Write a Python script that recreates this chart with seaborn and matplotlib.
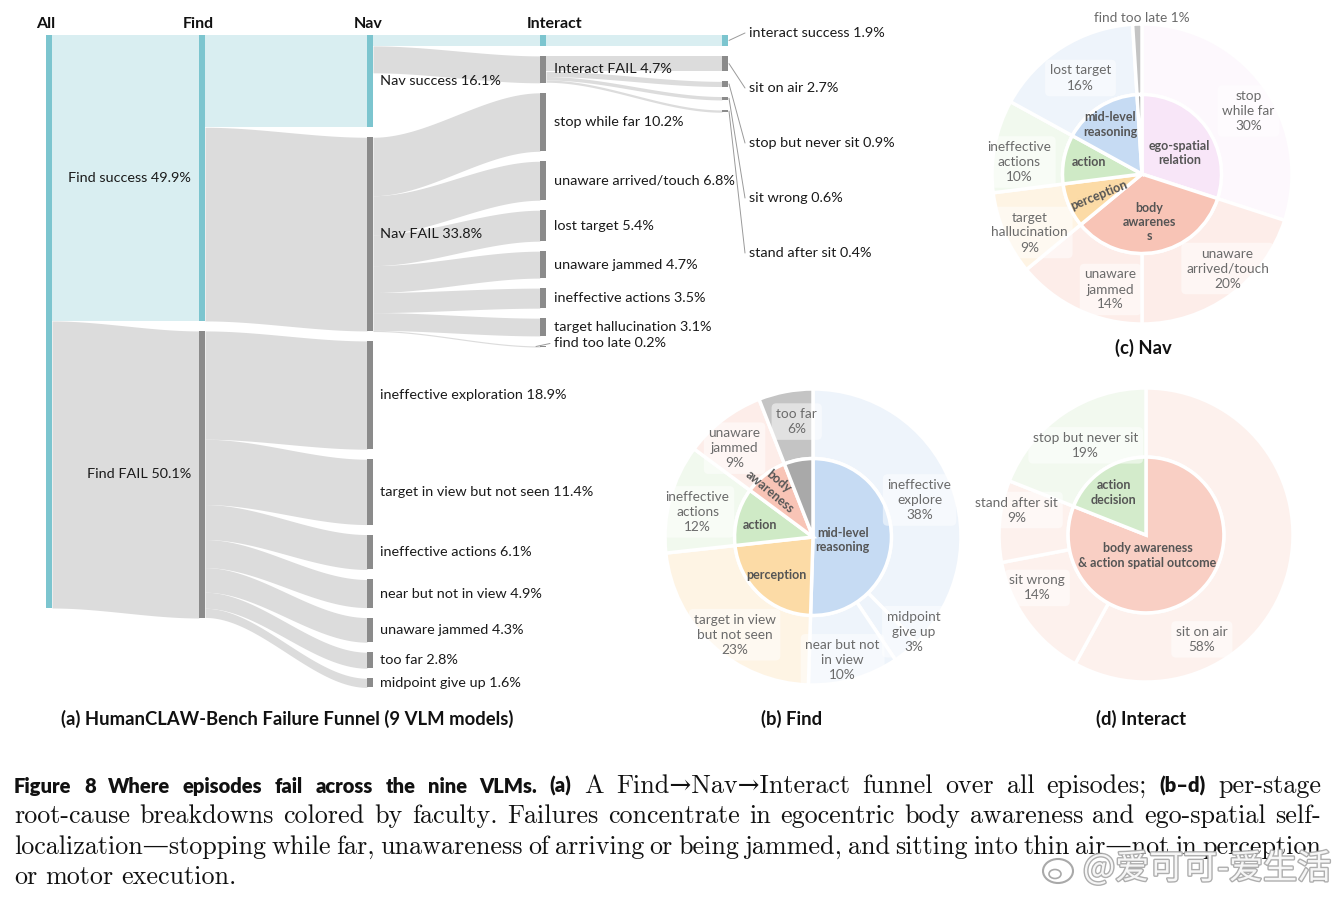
import numpy as np
import pandas as pd
import seaborn as sns
import matplotlib.pyplot as plt
import matplotlib.colors as mcolors
import matplotlib.patheffects as pe
from matplotlib.patches import Rectangle, Ellipse

# ---------------- funnel data (% of all episodes) ----------------
find_stage = ["Find success", "Find FAIL"]
find_vals = [49.9, 50.1]

nav_stage = ["Nav success", "Nav FAIL"]
nav_vals = [16.1, 33.8]

find_fail_causes = ["ineffective exploration", "target in view but not seen",
                    "ineffective actions", "near but not in view",
                    "unaware jammed", "too far", "midpoint give up"]
find_fail_vals = [18.9, 11.4, 6.1, 4.9, 4.3, 2.8, 1.6]

interact_stage = ["interact success", "Interact FAIL"]
interact_vals = [1.9, 4.7]

nav_fail_causes = ["stop while far", "unaware arrived/touch", "lost target",
                   "unaware jammed", "ineffective actions",
                   "target hallucination", "find too late"]
nav_fail_vals = [10.2, 6.8, 5.4, 4.7, 3.5, 3.1, 0.2]

interact_fail_causes = ["sit on air", "stop but never sit", "sit wrong",
                        "stand after sit"]
interact_fail_vals = [2.7, 0.9, 0.6, 0.4]

# ---------------- per-stage root causes (% within stage) ----------------
find_pie_labels = ["ineffective\nexplore", "midpoint\ngive up", "near but not\nin view",
                   "target in view\nbut not seen", "ineffective\nactions",
                   "unaware\njammed", "too far"]
find_pie_vals = [38, 3, 10, 23, 12, 9, 6]
find_pie_faculty = ["mid-level reasoning", "mid-level reasoning", "mid-level reasoning",
                    "perception", "action", "body awareness", "other"]

nav_pie_labels = ["stop\nwhile far", "unaware\narrived/touch", "unaware\njammed",
                  "target\nhallucination", "ineffective\nactions", "lost target",
                  "find too late"]
nav_pie_vals = [30, 20, 14, 9, 10, 16, 1]
nav_pie_faculty = ["ego-spatial relation", "body awareness", "body awareness",
                   "perception", "action", "mid-level reasoning", "other"]

inter_pie_labels = ["sit on air", "sit wrong", "stand after sit", "stop but never sit"]
inter_pie_vals = [58, 14, 9, 19]
inter_pie_faculty = ["outcome", "outcome", "outcome", "action decision"]

faculty_colors = {
    "mid-level reasoning": "#c6dbf3",
    "perception": "#fcdba6",
    "action": "#cfeac6",
    "body awareness": "#f8c4b6",
    "ego-spatial relation": "#f8e6f8",
    "outcome": "#f9cfc4",
    "action decision": "#d3ebcb",
    "other": "#a9a9a9",
}

# ---------------- figure ----------------
W, H = 1339, 899
sns.set_theme(style="white")
plt.rcParams["font.family"] = ["Lato", "DejaVu Sans"]

fig = plt.figure(figsize=(W / 100, H / 100), dpi=100)
ax = fig.add_axes([0, 0, 1, 1])
ax.set_xlim(0, W)
ax.set_ylim(H, 0)
ax.axis("off")

# ---------------- sankey ----------------
TEAL, TEAL_LINK = "#7cc5cf", "#d9eef1"
GREY, GREY_LINK = "#8b8b8b", "#dcdcdc"
top, px, gap, bw = 35, 5.73, 10, 6
col_x = [46, 199, 367, 540, 722]

cols = [[sum(find_vals)], find_vals, nav_vals + find_fail_vals,
        interact_vals + nav_fail_vals, interact_vals[:1] + interact_fail_vals]
names = [["All"], find_stage, nav_stage + find_fail_causes,
         interact_stage + nav_fail_causes, interact_stage[:1] + interact_fail_causes]
success = {(0, 0), (1, 0), (2, 0), (3, 0), (4, 0)}

pos = {}
for c, vals in enumerate(cols):
    y = top
    for i, v in enumerate(vals):
        pos[(c, i)] = (y, y + v * px)
        y += v * px + gap

links = [((0, 0), (1, 0)), ((0, 0), (1, 1)), ((1, 0), (2, 0)), ((1, 0), (2, 1))]
links += [((1, 1), (2, 2 + k)) for k in range(len(find_fail_vals))]
links += [((2, 0), (3, 0)), ((2, 0), (3, 1))]
links += [((2, 1), (3, 2 + k)) for k in range(len(nav_fail_vals))]
links += [((3, 0), (4, 0))]
links += [((3, 1), (4, 1 + k)) for k in range(len(interact_fail_vals))]

cursor = {k: v[0] for k, v in pos.items()}
for src, dst in links:
    h = cols[dst[0]][dst[1]] * px
    ya = cursor[src]
    cursor[src] += h
    yb = pos[dst][0]
    x0, x1 = col_x[src[0]] + bw, col_x[dst[0]]
    xs = np.linspace(x0, x1, 80)
    t = (xs - x0) / (x1 - x0)
    yt = ya + (yb - ya) * (3 * t ** 2 - 2 * t ** 3)
    ax.fill_between(xs, yt, yt + max(h, 0.8),
                    color=TEAL_LINK if dst in success else GREY_LINK, lw=0)

for (c, i), (y0, y1) in pos.items():
    ax.add_patch(Rectangle((col_x[c], y0), bw, max(y1 - y0, 0.8),
                           color=TEAL if (c, i) in success else GREY, lw=0))

lab = dict(fontsize=10.4, color="#1a1a1a", va="center")
for c, names_c in enumerate(names):
    for i, n in enumerate(names_c):
        if c == 0 or (c == 3 and i == 0):
            continue
        y0, y1 = pos[(c, i)]
        txt = f"{n} {cols[c][i]}%"
        yc = (y0 + y1) / 2
        if c == 1:
            ax.text(191, yc, txt, ha="right", **lab)
        elif c == 2:
            ax.text(380, yc, txt, ha="left", **lab)
        elif c == 3:
            last = i == len(names_c) - 1
            if last:
                ax.plot([col_x[c] - 4, 550], [yc, yc - 3], color="#9a9a9a", lw=0.7)
            ax.text(554, yc - (3 if last else 0), txt, ha="left", **lab)
        else:
            ly = 33 + 55 * i
            ax.plot([col_x[c] + bw + 1, 745], [yc, ly], color="#9a9a9a", lw=0.7)
            ax.text(749, ly, txt, ha="left", **lab)

for x, s in zip([46, 198, 368, 555], ["All", "Find", "Nav", "Interact"]):
    ax.text(x, 24, s, ha="center", va="center", fontsize=11.5, fontweight="bold",
            color="#111")

title_kw = dict(ha="center", va="center", fontsize=13.3, fontweight="bold", color="#111")
ax.text(287, 719, "(a) HumanCLAW-Bench Failure Funnel (9 VLM models)", **title_kw)
ax.text(792, 719, "(b) Find", **title_kw)
ax.text(1143, 348, "(c) Nav", **title_kw)
ax.text(1141, 719, "(d) Interact", **title_kw)


# ---------------- donuts ----------------
def lighten(c, amt=0.3):
    r = np.array(mcolors.to_rgb(c))
    return tuple(1 - (1 - r) * amt)


def donut(cx, cy, r, vals, faculty, labels, label_pos, inner_text, inner_pos,
          inner_rot, outside=()):
    R = 185
    a = fig.add_axes([(cx - R) / W, 1 - (cy + R) / H, 2 * R / W, 2 * R / H])
    a.set_axis_off()
    lim = R / r
    inner = pd.Series(vals).groupby(faculty, sort=False).sum()
    outer_cols = ["#c4c4c4" if f == "other" else lighten(faculty_colors[f])
                  for f in faculty]
    wp = dict(edgecolor="white", linewidth=2.5)
    a.pie(vals, radius=1, startangle=90, counterclock=False, colors=outer_cols,
          wedgeprops=dict(width=0.47, **wp))
    a.pie(inner.values, radius=0.53, startangle=90, counterclock=False,
          colors=[faculty_colors[f] for f in inner.index], wedgeprops=wp)
    a.set_xlim(-lim, lim)
    a.set_ylim(-lim, lim)
    a.set_aspect("equal")
    for k, (l, v) in enumerate(zip(labels, vals)):
        x, y = label_pos[k]
        if k in outside:
            a.text(x, y, f"{l} {v}%", ha="center", va="center", fontsize=9.8,
                   color="#6b6b6b")
            continue
        a.text(x, y, f"{l}\n{v}%", ha="center", va="center", fontsize=9.8,
               color="#6b6b6b", linespacing=1.3,
               bbox=dict(boxstyle="round,pad=0.35", fc="white", ec="none", alpha=0.5))
    for s, p, rot in zip(inner_text, inner_pos, inner_rot):
        if s:
            a.text(p[0], p[1], s, ha="center", va="center", fontsize=9.0,
                   fontweight="bold", color="#555555", rotation=rot,
                   linespacing=1.25)


donut(813, 537, 148, find_pie_vals, find_pie_faculty, find_pie_labels,
      [(0.72, 0.25), (0.68, -0.64), (0.2, -0.83), (-0.53, -0.66), (-0.78, 0.17),
       (-0.53, 0.6), (-0.11, 0.78)],
      ["mid-level\nreasoning", "perception", "action", "body\nawareness", ""],
      [(0.2, -0.02), (-0.25, -0.26), (-0.36, 0.08), (-0.26, 0.34), (0, 0)],
      [0, 0, 0, -40, 0])

donut(1142, 174, 150, nav_pie_vals, nav_pie_faculty, nav_pie_labels,
      [(0.71, 0.42), (0.57, -0.63), (-0.21, -0.77), (-0.75, -0.39), (-0.82, 0.08),
       (-0.41, 0.64), (0.0, 1.04)],
      ["ego-spatial\nrelation", "body\nawarenes\ns", "perception", "action",
       "mid-level\nreasoning", ""],
      [(0.25, 0.14), (0.05, -0.32), (-0.29, -0.14), (-0.35, 0.08), (-0.21, 0.33), (0, 0)],
      [0, 0, 22, 0, 0, 0], outside=(6,))

donut(1146, 535, 147, inter_pie_vals, inter_pie_faculty, inter_pie_labels,
      [(0.38, -0.71), (-0.74, -0.36), (-0.88, 0.17), (-0.41, 0.61)],
      ["body awareness\n& action spatial outcome", "action\ndecision"],
      [(0.01, -0.14), (-0.22, 0.29)],
      [0, 0])

# ---------------- caption ----------------
renderer = fig.canvas.get_renderer()
bold = dict(family=["Lato", "DejaVu Sans"], fontweight="heavy", fontsize=14.5,
            color="#111111")
serif = dict(family=["cmr10", "DejaVu Serif"], fontsize=18.8, color="#111111")

line1 = ([(w, bold) for w in "Figure 8 Where episodes fail across the nine VLMs.".split()]
         + [("(a)", bold)]
         + [(w, serif) for w in "A Find→Nav→Interact funnel over all episodes;".split()]
         + [("(b–d)", bold), ("per-stage", serif)])
line2 = [(w, serif) for w in ("root-cause breakdowns colored by faculty. Failures concentrate "
                              "in egocentric body awareness and ego-spatial self-").split()]
line3 = [(w, serif) for w in ("localization—stopping while far, unawareness of arriving or "
                              "being jammed, and sitting into thin air—not in perception").split()]
line4 = [(w, serif) for w in "or motor execution.".split()]


def set_line(tokens, y, justify=True, x0=14, x1=1321):
    texts = [ax.text(0, y, w, va="baseline", ha="left", **kw) for w, kw in tokens]
    widths = [t.get_window_extent(renderer).width for t in texts]
    sp = (x1 - x0 - sum(widths)) / (len(texts) - 1) if justify else 8
    x = x0
    for t, w in zip(texts, widths):
        t.set_x(x)
        x += w + sp


set_line(line1, 793)
set_line(line2, 823)
set_line(line3, 854)
set_line(line4, 884, justify=False)

# watermark
ax.add_patch(Ellipse((1058, 871), 30, 24, fc="white", ec="#a0a0a0", lw=1.5, alpha=0.9))
ax.add_patch(Ellipse((1055, 874), 12, 9, fc="none", ec="#a0a0a0", lw=1.2, alpha=0.9))
ax.text(1083, 869, "@爱可可-爱生活", family=["Noto Sans CJK SC", "DejaVu Sans"],
        fontsize=24.5, color="white", alpha=0.9, va="center", ha="left",
        path_effects=[pe.withStroke(linewidth=2, foreground="#a5a5a5")])

fig.savefig("out.png", dpi=100, facecolor="white")
